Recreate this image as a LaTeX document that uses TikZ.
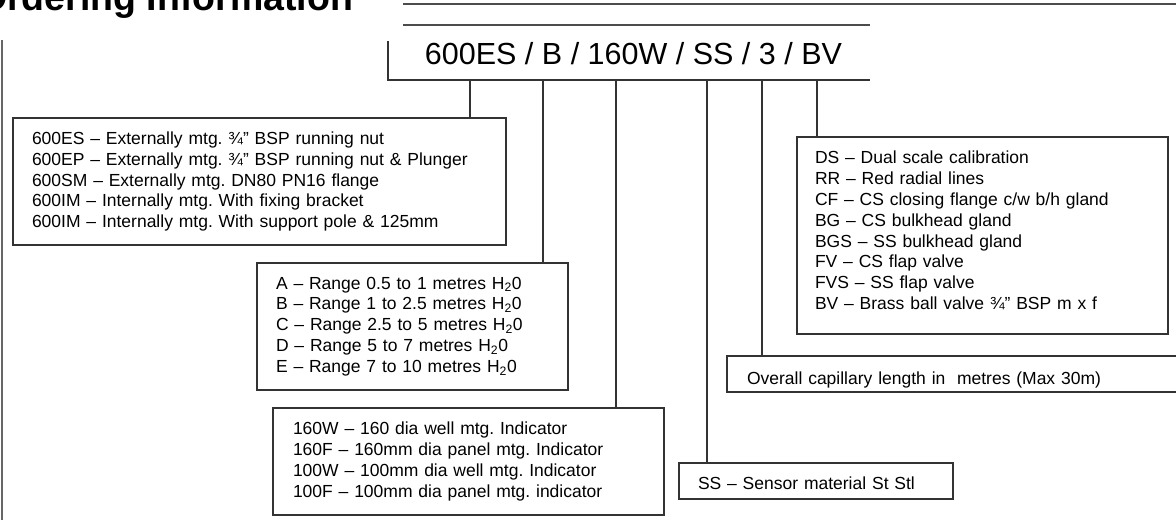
\documentclass[tikz,border=0pt]{standalone}
\usepackage{fontspec}
\setmainfont{Liberation Sans}
\frenchspacing
\begin{document}
\begin{tikzpicture}[x=1pt,y=-1pt,
  box/.style={draw=black!80, line width=1.4pt, rectangle, anchor=north west, inner ysep=0pt, outer sep=0pt, align=left, font=\fontsize{17.5}{20.8}\selectfont\frenchspacing, text=black},
  wire/.style={draw=black!80, line width=1.4pt},
  rule/.style={draw=black!70, line width=1.2pt},
  edge/.style={draw=black!60, line width=2pt}]
\useasboundingbox (0,0) rectangle (1176,520);
% title and rules
\node[anchor=base west, font=\bfseries\fontsize{37.5}{40}\selectfont, inner sep=0pt] (title) at (-22,10) {Ordering Information};
\coordinate (r1a) at (403,4); \coordinate (r1b) at (1176,4);
\draw[rule] (r1a) -- (r1b);
\coordinate (r2a) at (403,25); \coordinate (r2b) at (870,25);
\draw[rule] (r2a) -- (r2b);
\coordinate (lv1) at (2,40); \coordinate (lv2) at (2,520);
\draw[edge] (lv1) -- (lv2);
% code
\node[anchor=base, font=\fontsize{30.5}{34}\selectfont, inner sep=0pt] (code) at (633.5,64) {600ES / B / 160W / SS / 3 / BV};
\coordinate (busL) at (388,41); \coordinate (busR) at (870,80);
\draw[wire] (busL) |- (busR);
% boxes
\node[box, text width=455pt, inner xsep=19pt, minimum height=127pt] (es) at (13,118)
 {600ES – Externally mtg. ¾" BSP running nut\\
  600EP – Externally mtg. ¾" BSP running nut \& Plunger\\
  600SM – Externally mtg. DN80 PN16 flange\\
  600IM – Internally mtg. With fixing bracket\\
  600IM – Internally mtg. With support pole \& 125mm};
\node[box, text width=273pt, inner xsep=19pt, minimum height=127pt] (rng) at (257,263)
 {A – Range 0.5 to 1 metres H\textsubscript{2}0\\
  B – Range 1 to 2.5 metres H\textsubscript{2}0\\
  C – Range 2.5 to 5 metres H\textsubscript{2}0\\
  D – Range 5 to 7 metres H\textsubscript{2}0\\
  E – Range 7 to 10 metres H\textsubscript{2}0};
\node[box, text width=351pt, inner xsep=20pt, minimum height=107pt] (ind) at (273,408)
 {160W – 160 dia well mtg. Indicator\\
  160F – 160mm dia panel mtg. Indicator\\
  100W – 100mm dia well mtg. Indicator\\
  100F – 100mm dia panel mtg. indicator};
\node[box, text width=236pt, inner xsep=19pt, minimum height=36pt, text height=16pt, text depth=0pt] (mat) at (679,463)
 {SS – Sensor material St Stl};
\node[box, text width=430pt, inner xsep=20pt, minimum height=36pt, text height=20pt, text depth=0pt] (cap) at (727,356)
 {Overall capillary length in \ metres (Max 30m)};
\node[box, text width=335pt, inner xsep=18pt, minimum height=197pt, text depth=156pt] (opt) at (797,137)
 {DS – Dual scale calibration\\
  RR – Red radial lines\\
  CF – CS closing flange c/w b/h gland\\
  BG – CS bulkhead gland\\
  BGS – SS bulkhead gland\\
  FV – CS flap valve\\
  FVS – SS flap valve\\
  BV – Brass ball valve ¾" BSP m x f};
% drops
\coordinate (j1) at (470,80);
\coordinate (j2) at (543,80);
\coordinate (j3) at (616,80);
\coordinate (j4) at (707,80);
\coordinate (j5) at (762,80);
\coordinate (j6) at (817,80);
\draw[wire] (j1) -- (j1 |- es.north);
\draw[wire] (j2) -- (j2 |- rng.north);
\draw[wire] (j3) -- (j3 |- ind.north);
\draw[wire] (j4) -- (j4 |- mat.north);
\draw[wire] (j5) -- (j5 |- cap.north);
\draw[wire] (j6) -- (j6 |- opt.north);
\end{tikzpicture}
\end{document}
